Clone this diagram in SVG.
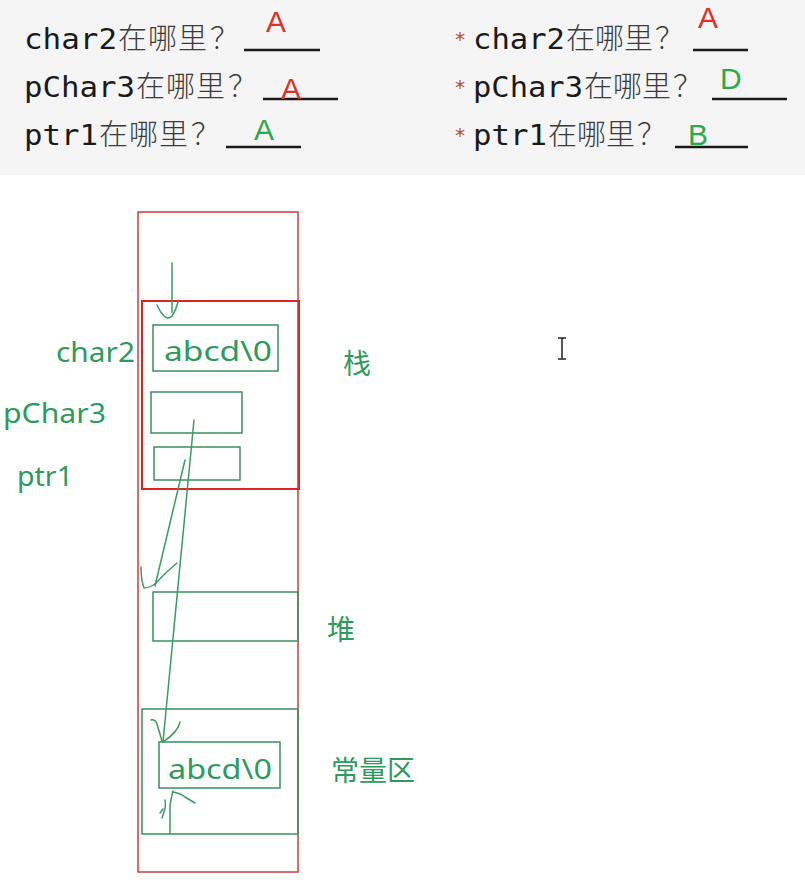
<svg xmlns="http://www.w3.org/2000/svg" width="805" height="890" viewBox="0 0 805 890">
<style>
.mono{font-family:"DejaVu Sans Mono","Liberation Mono",monospace;font-size:28px;fill:#1a1a1a}
.cjk{font-family:"Noto Sans CJK SC","Noto Sans",sans-serif;font-size:29px;fill:#3a3a3a;font-weight:300}
.ul{stroke:#1a1a1a;stroke-width:2.5}
.ans{font-family:"Liberation Sans","Noto Sans",sans-serif;font-size:30px}
.red{fill:#e0302a}
.grn{fill:#2ea84e}
.star{font-family:"DejaVu Sans Mono",monospace;font-size:20px;fill:#b04a30}
.lbl{font-family:"Noto Sans","Noto Sans CJK SC",sans-serif;font-size:28px;fill:#2e9a5c}
.zh{font-family:"Noto Sans CJK SC","Noto Sans",sans-serif;font-size:28px;fill:#2e9a5c}
.box{fill:none;stroke:#3a8f5e;stroke-width:1.5}
.rbox{fill:none;stroke:#d23a3a;stroke-width:1.5}
.pen{fill:none;stroke:#3a9a62;stroke-width:1.5;stroke-linecap:round;stroke-linejoin:round}
</style>
<rect x="0" y="0" width="805" height="890" fill="#ffffff"/>
<rect x="0" y="0" width="805" height="175" fill="#f5f5f5"/>

<g id="questions">
  <text class="mono" x="24" y="49" textLength="93" lengthAdjust="spacingAndGlyphs">char2</text>
  <text class="cjk" x="118 148 178 210" y="49">在哪里？</text>
  <line class="ul" x1="244" y1="50" x2="320" y2="50"/>
  <text class="ans red" x="266" y="32">A</text>

  <text class="mono" x="24" y="97" textLength="111" lengthAdjust="spacingAndGlyphs">pChar3</text>
  <text class="cjk" x="136 166 196 228" y="97">在哪里？</text>
  <line class="ul" x1="263" y1="99" x2="338" y2="99"/>
  <text class="ans red" x="281" y="99">A</text>

  <text class="mono" x="24" y="145" textLength="74" lengthAdjust="spacingAndGlyphs">ptr1</text>
  <text class="cjk" x="99 129 159 191" y="145">在哪里？</text>
  <line class="ul" x1="226" y1="147" x2="301" y2="147"/>
  <text class="ans grn" x="254" y="140">A</text>

  <text class="star" x="454" y="46">*</text>
  <text class="mono" x="473" y="49" textLength="92" lengthAdjust="spacingAndGlyphs">char2</text>
  <text class="cjk" x="566 595 624 655" y="49">在哪里？</text>
  <line class="ul" x1="693" y1="50" x2="748" y2="50"/>
  <text class="ans red" x="698" y="28">A</text>

  <text class="star" x="454" y="94">*</text>
  <text class="mono" x="473" y="97" textLength="110" lengthAdjust="spacingAndGlyphs">pChar3</text>
  <text class="cjk" x="584 613 642 673" y="97">在哪里？</text>
  <line class="ul" x1="712" y1="99" x2="787" y2="99"/>
  <text class="ans grn" x="720" y="89">D</text>

  <text class="star" x="454" y="142">*</text>
  <text class="mono" x="473" y="145" textLength="74" lengthAdjust="spacingAndGlyphs">ptr1</text>
  <text class="cjk" x="548 577 606 637" y="145">在哪里？</text>
  <line class="ul" x1="675" y1="147" x2="748" y2="147"/>
  <text class="ans grn" x="688" y="145">B</text>
</g>

<g id="memory">
  <rect class="rbox" x="138" y="212" width="160" height="660"/>
</g>

<g id="stack">
  <rect x="142" y="301" width="157" height="188" fill="none" stroke="#e02424" stroke-width="2"/>
  <text class="zh" x="343" y="374">栈</text>
</g>

<g id="char2">
  <text class="lbl" x="56" y="362" textLength="79" lengthAdjust="spacingAndGlyphs">char2</text>
  <rect class="box" x="153" y="325" width="125" height="46"/>
  <text class="lbl" x="164" y="361" textLength="108" lengthAdjust="spacingAndGlyphs">abcd\0</text>
</g>

<g id="pChar3">
  <text class="lbl" x="3" y="423" textLength="103" lengthAdjust="spacingAndGlyphs">pChar3</text>
  <rect class="box" x="151" y="392" width="91" height="41"/>
</g>

<g id="ptr1">
  <text class="lbl" x="17" y="486" textLength="56" lengthAdjust="spacingAndGlyphs">ptr1</text>
  <rect class="box" x="154" y="447" width="86" height="33"/>
</g>

<g id="heap">
  <rect class="box" x="153" y="592" width="145" height="49"/>
  <text class="zh" x="327" y="640">堆</text>
</g>

<g id="const">
  <rect class="box" x="142" y="709" width="156" height="125"/>
  <rect class="box" x="159" y="742" width="121" height="46"/>
  <text class="lbl" x="168" y="779" textLength="104" lengthAdjust="spacingAndGlyphs">abcd\0</text>
  <text class="zh" x="331" y="781">常量区</text>
</g>

<g id="connectors">
  <path class="pen" d="M172 263 L172 312"/>
  <path class="pen" d="M157 305 Q160 312 164 316 Q168 320 172 316 Q176 310 178 302"/>
  <path class="pen" d="M194 420 L163 742"/>
  <path class="pen" d="M151 720 Q155 719 157 724 L162 741"/>
  <path class="pen" d="M180 722 Q178 732 163 742"/>
  <path class="pen" d="M185 460 L155 586"/>
  <path class="pen" d="M141 567 Q141 580 144 588 Q149 588 155 584"/>
  <path class="pen" d="M177 563 Q166 572 155 584"/>
  <path class="pen" d="M170 834 L170 806 Q171 798 173 791"/>
  <path class="pen" d="M173 792 Q180 793 185 797 Q190 800 195 803"/>
  <path class="pen" d="M165 800 Q166 808 164 812 L162 818 M163 809 L160 813"/>
</g>

<g id="cursor">
  <path d="M562 338 V359 M558 338 H566 M558 359 H566" fill="none" stroke="#222" stroke-width="1.5"/>
</g>
</svg>
